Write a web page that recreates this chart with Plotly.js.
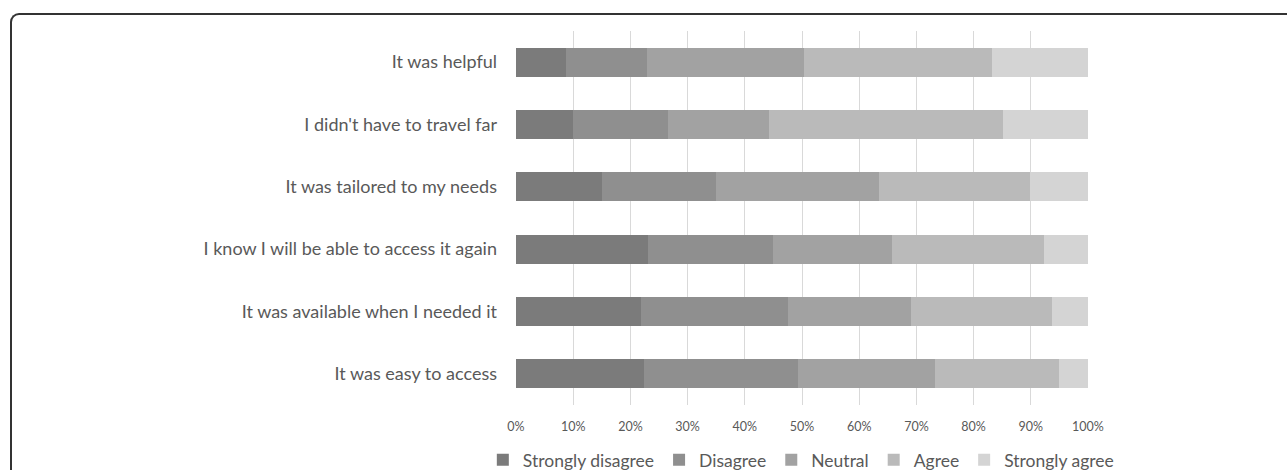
<!DOCTYPE html>
<html>
<head>
<meta charset="utf-8">
<script src="https://cdn.plot.ly/plotly-3.0.1.min.js"></script>
<style>
  html, body { margin: 0; padding: 0; background: #fff; overflow: hidden; }
  #frame { position: absolute; left: 10px; top: 13px; width: 1400px; height: 600px;
           border-top: 2px solid #333; border-left: 2px solid #333; border-top-left-radius: 9px; pointer-events: none; }
  #chart { position: absolute; left: 0; top: 0; width: 1287px; height: 470px; }
</style>
</head>
<body>
<div id="chart"></div>
<div id="frame"></div>
<script>
const categories = [
  "It was helpful",
  "I didn't have to travel far",
  "It was tailored to my needs",
  "I know I will be able to access it again",
  "It was available when I needed it",
  "It was easy to access"
];
const seriesNames = ["Strongly disagree", "Disagree", "Neutral", "Agree", "Strongly agree"];
const stronglyDisagree = [0.088, 0.100, 0.151, 0.231, 0.218, 0.223];
const disagree         = [0.141, 0.165, 0.198, 0.218, 0.257, 0.270];
const neutral          = [0.274, 0.177, 0.285, 0.209, 0.216, 0.239];
const agree            = [0.329, 0.410, 0.264, 0.265, 0.246, 0.218];
const stronglyAgree    = [0.168, 0.148, 0.102, 0.077, 0.063, 0.050];
const seriesValues = [stronglyDisagree, disagree, neutral, agree, stronglyAgree];
const colors = ["#7b7b7b", "#8f8f8f", "#a2a2a2", "#bababa", "#d4d4d4"];
const xTicks = [0, 0.1, 0.2, 0.3, 0.4, 0.5, 0.6, 0.7, 0.8, 0.9, 1.0];
const xTickLabels = ["0%", "10%", "20%", "30%", "40%", "50%", "60%", "70%", "80%", "90%", "100%"];

const fontFam = "Lato, 'Open Sans', sans-serif";
const traces = seriesNames.map((name, i) => ({
  type: "bar",
  orientation: "h",
  name: name,
  y: categories,
  x: seriesValues[i],
  marker: { color: colors[i], line: { width: 0 } },
  hoverinfo: "skip"
}));

const layout = {
  width: 1287,
  height: 470,
  margin: { l: 516, r: 199, t: 31, b: 65, pad: 0, autoexpand: false },
  barmode: "stack",
  bargap: 0.535,
  paper_bgcolor: "#ffffff",
  plot_bgcolor: "#ffffff",
  font: { family: fontFam, color: "#595959" },
  showlegend: true,
  legend: {
    orientation: "h",
    x: -0.058, xanchor: "left",
    y: -0.147, yanchor: "middle",
    font: { size: 17.5, color: "#595959", family: fontFam },
    traceorder: "normal",
    itemwidth: 30,
    tracegroupgap: 0,
    itemclick: false
  },
  xaxis: {
    range: [0, 1],
    tickvals: xTicks,
    ticktext: xTickLabels,
    showgrid: true,
    gridcolor: "#d9d9d9",
    gridwidth: 1,
    zeroline: false,
    showline: false,
    ticks: "",
    ticklabelstandoff: 12,
    tickfont: { size: 12.5, color: "#595959", family: fontFam },
    fixedrange: true
  },
  yaxis: {
    type: "category",
    categoryorder: "array",
    categoryarray: categories,
    autorange: "reversed",
    showgrid: false,
    zeroline: false,
    showline: false,
    ticks: "",
    ticklabelstandoff: 18,
    tickfont: { size: 18, color: "#595959", family: fontFam },
    fixedrange: true
  }
};

Plotly.newPlot("chart", traces, layout, { displayModeBar: false, staticPlot: true });
</script>
</body>
</html>
